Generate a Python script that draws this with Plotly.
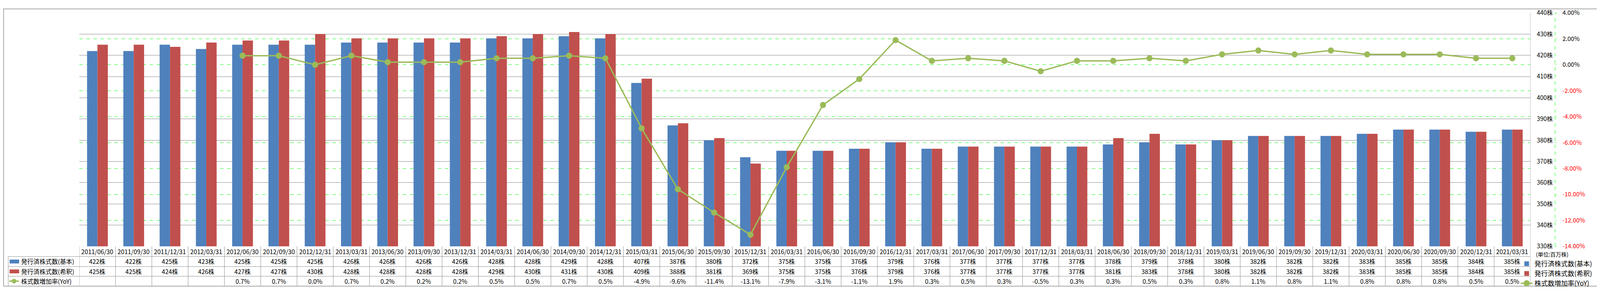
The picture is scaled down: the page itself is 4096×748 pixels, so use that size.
import plotly.graph_objects as go

# ---------------- data ----------------
dates = ["2011/06/30", "2011/09/30", "2011/12/31", "2012/03/31", "2012/06/30", "2012/09/30",
         "2012/12/31", "2013/03/31", "2013/06/30", "2013/09/30", "2013/12/31", "2014/03/31",
         "2014/06/30", "2014/09/30", "2014/12/31", "2015/03/31", "2015/06/30", "2015/09/30",
         "2015/12/31", "2016/03/31", "2016/06/30", "2016/09/30", "2016/12/31", "2017/03/31",
         "2017/06/30", "2017/09/30", "2017/12/31", "2018/03/31", "2018/06/30", "2018/09/30",
         "2018/12/31", "2019/03/31", "2019/06/30", "2019/09/30", "2019/12/31", "2020/03/31",
         "2020/06/30", "2020/09/30", "2020/12/31", "2021/03/31"]
shares_basic = [422, 422, 425, 423, 425, 425, 425, 426, 426, 426, 426, 428, 428, 429, 428, 407,
                387, 380, 372, 375, 375, 376, 379, 376, 377, 377, 377, 377, 378, 379, 378, 380,
                382, 382, 382, 383, 385, 385, 384, 385]
shares_diluted = [425, 425, 424, 426, 427, 427, 430, 428, 428, 428, 428, 429, 430, 431, 430, 409,
                  388, 381, 369, 375, 375, 376, 379, 376, 377, 377, 377, 377, 381, 383, 378, 380,
                  382, 382, 382, 383, 385, 385, 384, 385]
yoy_pct = [None, None, None, None, 0.7, 0.7, 0.0, 0.7, 0.2, 0.2, 0.2, 0.5, 0.5, 0.7, 0.5, -4.9,
           -9.6, -11.4, -13.1, -7.9, -3.1, -1.1, 1.9, 0.3, 0.5, 0.3, -0.5, 0.3, 0.3, 0.5, 0.3, 0.8,
           1.1, 0.8, 1.1, 0.8, 0.8, 0.8, 0.5, 0.5]

series_names = ["発行済株式数(基本)", "発行済株式数(希釈)", "株式数増加率(YoY)"]
unit_label = "(単位:百万株)"
share_ticks = [330, 340, 350, 360, 370, 380, 390, 400, 410, 420, 430, 440]
pct_ticks = [-14, -12, -10, -8, -6, -4, -2, 0, 2, 4]

# ---------------- styling / layout helpers ----------------
BLUE, RED, GREEN = "#4F81BD", "#C0504D", "#9BBB59"
LIME = "#00FF00"
GRID = "#888888"
LINEC = "#8C8C8C"
FONT = "Noto Sans CJK JP"

S = 0.871
W, H = 4096, 748
L, R, T, B = 195, 123, 12, 109
PW = W - L - R
PH = H - T - B


def fx(xr):
    return (xr * S - L) / PW


def fy(yr):
    return (H - B - yr * S) / PH


XEND = fx(4489)
n = len(dates)

fig = go.Figure()
fig.add_trace(go.Bar(x=dates, y=shares_basic, name=series_names[0], marker_color=BLUE,
                     marker_line_width=0, yaxis="y"))
fig.add_trace(go.Bar(x=dates, y=shares_diluted, name=series_names[1], marker_color=RED,
                     marker_line_width=0, yaxis="y"))
fig.add_trace(go.Scatter(x=dates, y=yoy_pct, name=series_names[2], mode="lines+markers",
                         line=dict(color=GREEN, width=3.5),
                         marker=dict(color=GREEN, size=15.7), yaxis="y2"))

pct_text = []
for v in pct_ticks:
    s = f"{v:.2f}%"
    pct_text.append(f"<span style='color:#FF0000'>{s}</span>" if v < 0 else s)

shapes = []
annotations = []

# table vertical lines
for i in range(n + 1):
    top = 1 if i == n else fy(734)
    shapes.append(dict(type="line", xref="x", yref="paper", x0=i - 0.5, x1=i - 0.5,
                       y0=fy(856), y1=top, line=dict(color=LINEC, width=1)))
# table horizontal lines
for yr in [765, 796, 826]:
    shapes.append(dict(type="line", xref="paper", yref="paper", x0=fx(15), x1=XEND,
                       y0=fy(yr), y1=fy(yr), line=dict(color=LINEC, width=1)))
shapes.append(dict(type="line", xref="paper", yref="paper", x0=fx(15), x1=fx(15),
                   y0=fy(856), y1=fy(765), line=dict(color=LINEC, width=1)))
# outer border
shapes.append(dict(type="rect", xref="paper", yref="paper", x0=fx(1.5), x1=fx(4699.5),
                   y0=fy(856.5), y1=fy(1.5), line=dict(color=LINEC, width=1.5)))
# green dashed axis line
shapes.append(dict(type="line", xref="paper", yref="paper", x0=1, x1=1, y0=0, y1=1,
                   line=dict(color=LIME, width=1, dash="dash")))

tfont = dict(family=FONT, size=15.7, color="#000000")
row_y = [fy(749.5), fy(780.5), fy(811), fy(841)]

for i, d in enumerate(dates):
    annotations.append(dict(x=i, y=row_y[0], xref="x", yref="paper", text=d, showarrow=False,
                            font=tfont, xanchor="center", yanchor="middle"))
    annotations.append(dict(x=i, y=row_y[1], xref="x", yref="paper", text=f"{shares_basic[i]}株",
                            showarrow=False, font=tfont, xanchor="center", yanchor="middle"))
    annotations.append(dict(x=i, y=row_y[2], xref="x", yref="paper", text=f"{shares_diluted[i]}株",
                            showarrow=False, font=tfont, xanchor="center", yanchor="middle"))
    if yoy_pct[i] is not None:
        annotations.append(dict(x=i, y=row_y[3], xref="x", yref="paper", text=f"{yoy_pct[i]:.1f}%",
                                showarrow=False, font=tfont, xanchor="center", yanchor="middle"))

# row headers (left)
for k, name in enumerate(series_names):
    annotations.append(dict(x=fx(50), y=row_y[k + 1], xref="paper", yref="paper", text=name,
                            showarrow=False, font=tfont, xanchor="left", yanchor="middle"))
for k, col in enumerate([BLUE, RED]):
    yc = 780.5 if k == 0 else 811
    shapes.append(dict(type="rect", xref="paper", yref="paper", x0=fx(19), x1=fx(47),
                       y0=fy(yc + 6), y1=fy(yc - 6), fillcolor=col, line=dict(width=0)))
shapes.append(dict(type="line", xref="paper", yref="paper", x0=fx(18), x1=fx(46),
                   y0=fy(841), y1=fy(841), line=dict(color=GREEN, width=3.5)))
shapes.append(dict(type="circle", xref="paper", yref="paper", x0=fx(25), x1=fx(39),
                   y0=fy(848), y1=fy(834), fillcolor=GREEN, line=dict(width=0)))

annotations.append(dict(x=fx(4503), y=fy(758), xref="paper", yref="paper", text=unit_label,
                        showarrow=False, font=dict(family=FONT, size=14, color="#000000"),
                        xanchor="left", yanchor="middle"))

fig.update_layout(
    width=W, height=H,
    margin=dict(l=L, r=R, t=T, b=B, pad=0),
    paper_bgcolor="white", plot_bgcolor="white",
    barmode="group", bargap=0.428, bargroupgap=0,
    font=dict(family=FONT, color="#000000"),
    xaxis=dict(domain=[0, XEND], range=[-0.5, n - 0.5], showticklabels=False, ticks="",
               showgrid=False, zeroline=False, showline=False, type="category"),
    yaxis=dict(range=[330, 440], tickvals=share_ticks, ticktext=[f"{v}株" for v in share_ticks],
               side="right", anchor="free", position=1, ticklabelposition="inside",
               ticklabeloverflow="allow", ticks="", showline=False, zeroline=False,
               showgrid=True, gridcolor=GRID, gridwidth=1, ticklabelstandoff=3,
               tickfont=dict(family=FONT, size=15.3, color="#000000")),
    yaxis2=dict(range=[-14, 4], tickvals=pct_ticks, ticktext=pct_text, overlaying="y",
                side="right", anchor="free", position=1, ticks="outside", ticklen=3,
                tickcolor=LIME, showline=False, zeroline=False, showgrid=True,
                gridcolor=LIME, gridwidth=1, griddash="dash", ticklabelstandoff=12,
                ticklabeloverflow="allow",
                tickfont=dict(family=FONT, size=15.3, color="#000000")),
    showlegend=True,
    legend=dict(x=fx(4455), y=fy(766), xanchor="left", yanchor="top",
                font=dict(family=FONT, size=17, color="#000000"),
                bgcolor="rgba(0,0,0,0)", borderwidth=0, itemwidth=30, tracegroupgap=0,
                traceorder="normal"),
    shapes=shapes,
    annotations=annotations,
)

fig.write_html("out.html")
